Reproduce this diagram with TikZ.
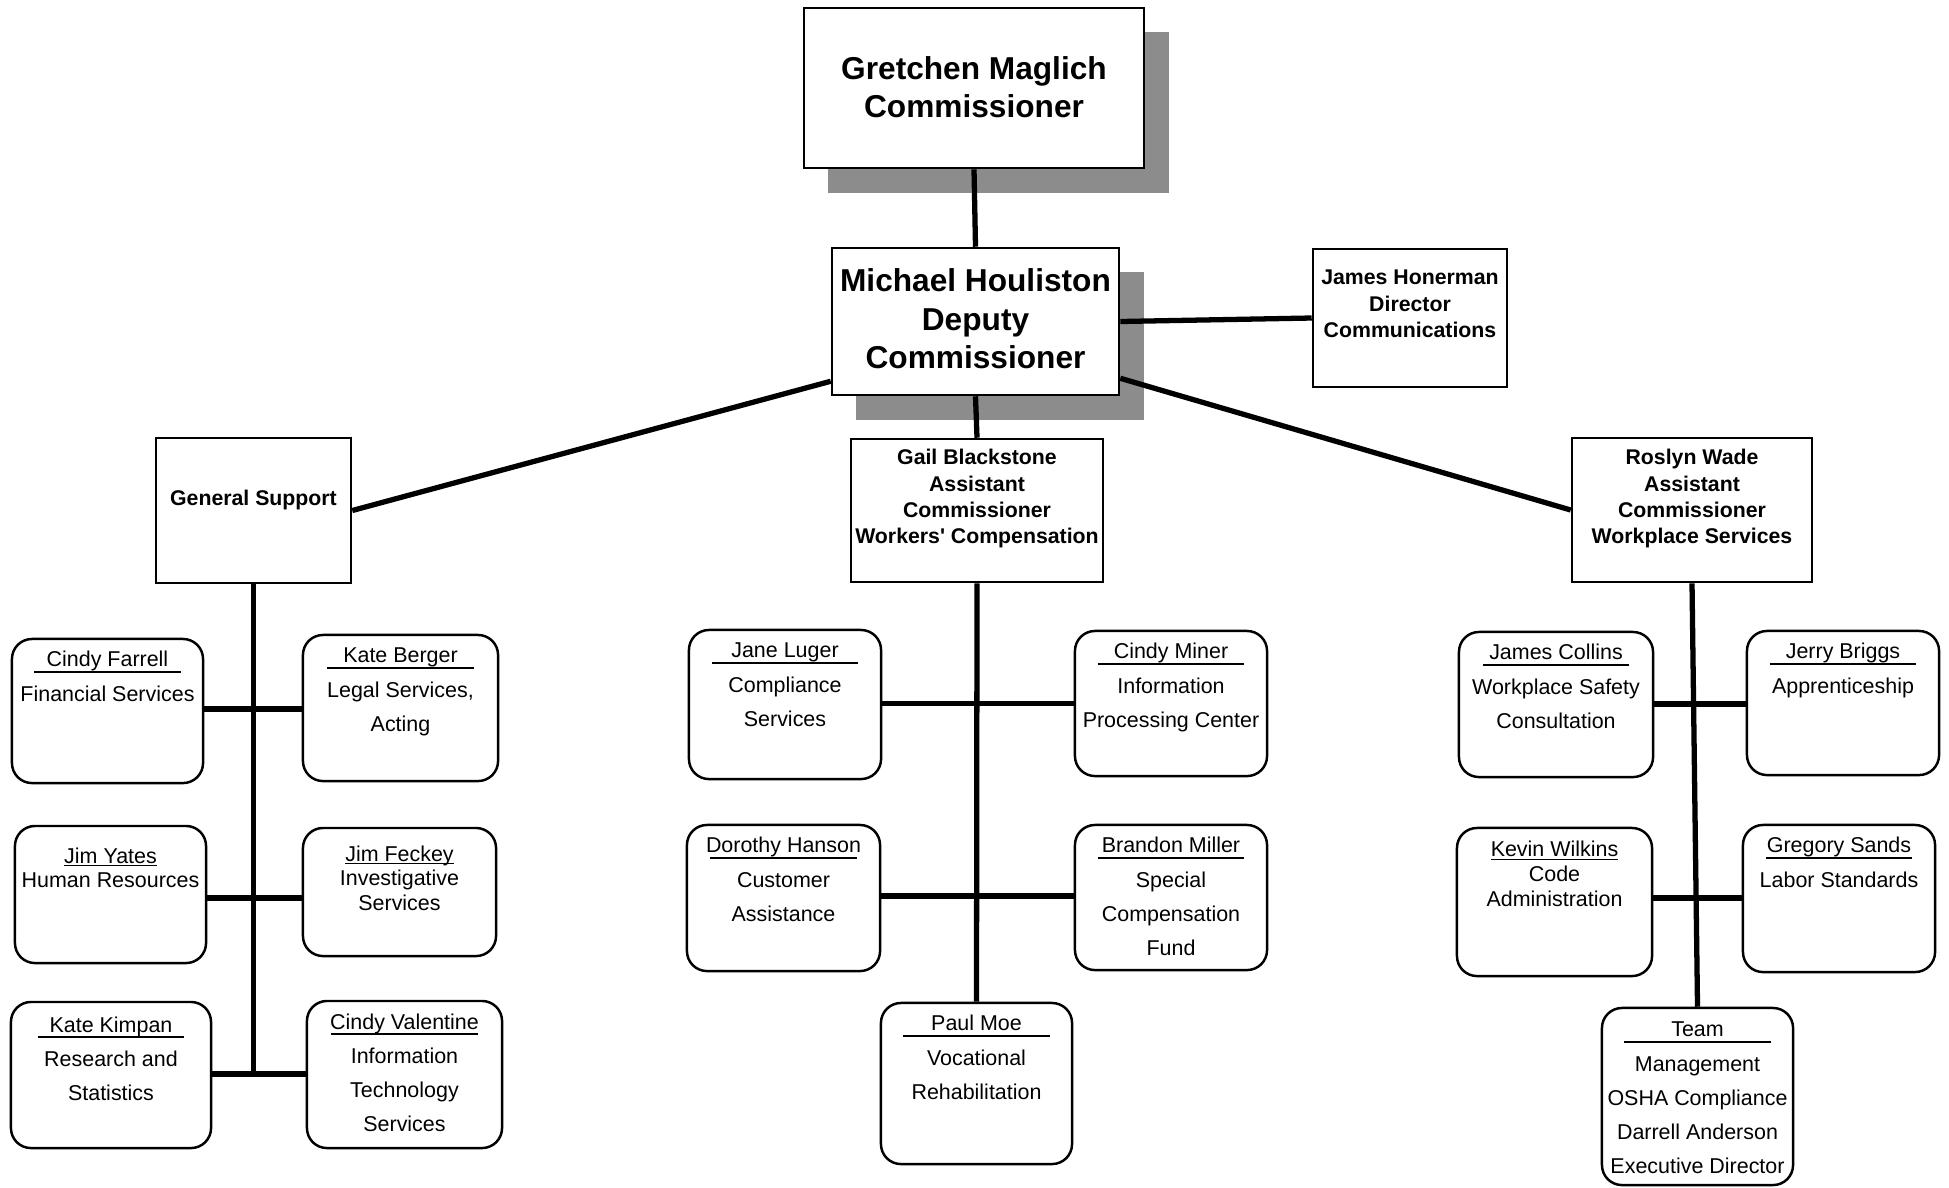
\documentclass[tikz,border=0pt]{standalone}
\usepackage{fontspec}
\setmainfont{Liberation Sans}
\usepackage{tikz}
\usetikzlibrary{shadows}

\newcommand{\chieffont}{\fontsize{9pt}{10.9pt}\selectfont\bfseries}
\newcommand{\unitfont}{\fontsize{6.05pt}{7.4pt}\selectfont\bfseries}
\newcommand{\cellfont}{\fontsize{6.1pt}{9.7pt}\selectfont}
\newcommand{\tightfont}{\fontsize{6.1pt}{7.1pt}\selectfont}
% width, height, first baseline, lines
\newcommand{\orgcell}[4]{\parbox[c][#2][t]{#1}{\centering\rule{0pt}{#3}#4}}
\newcommand{\rname}[1]{\makebox[0pt]{\rule[-1.7pt]{1.46cm}{0.55pt}}\makebox[0pt]{#1}}
\newcommand{\uname}[1]{\setbox0=\hbox{#1}\rlap{\rule[-0.9pt]{\wd0}{0.45pt}}\box0}

\begin{document}
\begin{tikzpicture}[x=0.01cm, y=-0.01cm,
    box/.style={draw, line width=0.7pt, fill=white, inner sep=0pt},
    rbox/.style={box, rounded corners=0.2cm},
    shadowed/.style={drop shadow={shadow xshift=0.245cm, shadow yshift=-0.245cm, fill=black!45, opacity=1}},
    link/.style={line width=1.5pt}
]
    \useasboundingbox (0,0) rectangle (1949,1187);

    % Commissioner
    \node[box, shadowed, font=\chieffont] (gretchen) at (974,88) {\orgcell{3.4cm}{1.6cm}{0.71cm}{Gretchen Maglich\\Commissioner}};

    % Deputy
    \node[box, shadowed, font=\chieffont] (michael) at (975.5,321.5) {\orgcell{2.87cm}{1.47cm}{0.44cm}{Michael Houliston\\Deputy\\Commissioner}};

    % Communications
    \node[box, font=\unitfont] (honerman) at (1410,318) {\orgcell{1.94cm}{1.38cm}{0.36cm}{James Honerman\\Director\\Communications}};

    % Divisions
    \node[box, font=\unitfont] (support) at (253.5,510.5) {\orgcell{1.95cm}{1.45cm}{0.67cm}{General Support}};
    \node[box, font=\unitfont] (gail) at (977,510.5) {\orgcell{2.52cm}{1.43cm}{0.26cm}{Gail Blackstone\\Assistant\\Commissioner\\Workers\textquotesingle{} Compensation}};
    \node[box, font=\unitfont] (roslyn) at (1692,510) {\orgcell{2.4cm}{1.44cm}{0.27cm}{Roslyn Wade\\Assistant\\Commissioner\\Workplace Services}};

    % General Support units
    \node[rbox, font=\cellfont] (farrell) at (107.5,711) {\orgcell{1.91cm}{1.44cm}{0.28cm}{\rname{Cindy Farrell}\\Financial Services}};
    \node[rbox, font=\cellfont] (berger) at (400.5,708) {\orgcell{1.95cm}{1.46cm}{0.28cm}{\rname{Kate Berger}\\Legal Services,\\Acting}};
    \node[rbox, font=\tightfont] (yates) at (110.5,894.5) {\orgcell{1.91cm}{1.37cm}{0.37cm}{\uname{Jim Yates}\\Human Resources}};
    \node[rbox, font=\tightfont] (feckey) at (399.5,892) {\orgcell{1.93cm}{1.28cm}{0.33cm}{\uname{Jim Feckey}\\Investigative\\Services}};
    \node[rbox, font=\cellfont] (kimpan) at (111,1075) {\orgcell{2cm}{1.46cm}{0.3cm}{\rname{Kate Kimpan}\\Research and\\Statistics}};
    \node[rbox, font=\cellfont] (valentine) at (404.5,1074.5) {\orgcell{1.95cm}{1.47cm}{0.28cm}{\rname{Cindy Valentine}\\Information\\Technology\\Services}};

    % Workers' Compensation units
    \node[rbox, font=\cellfont] (luger) at (785,704.5) {\orgcell{1.92cm}{1.49cm}{0.28cm}{\rname{Jane Luger}\\Compliance\\Services}};
    \node[rbox, font=\cellfont] (miner) at (1171,703.5) {\orgcell{1.92cm}{1.45cm}{0.28cm}{\rname{Cindy Miner}\\Information\\Processing Center}};
    \node[rbox, font=\cellfont] (hanson) at (783.5,898) {\orgcell{1.93cm}{1.46cm}{0.28cm}{\rname{Dorothy Hanson}\\Customer\\Assistance}};
    \node[rbox, font=\cellfont] (miller) at (1171,897.5) {\orgcell{1.92cm}{1.45cm}{0.28cm}{\rname{Brandon Miller}\\Special\\Compensation\\Fund}};
    \node[rbox, font=\cellfont] (moe) at (976.5,1083.5) {\orgcell{1.91cm}{1.61cm}{0.28cm}{\rname{Paul Moe}\\Vocational\\Rehabilitation}};

    % Workplace Services units
    \node[rbox, font=\cellfont] (collins) at (1556,704.5) {\orgcell{1.94cm}{1.45cm}{0.28cm}{\rname{James Collins}\\Workplace Safety\\Consultation}};
    \node[rbox, font=\cellfont] (briggs) at (1843,703) {\orgcell{1.92cm}{1.44cm}{0.28cm}{\rname{Jerry Briggs}\\Apprenticeship}};
    \node[rbox, font=\tightfont] (wilkins) at (1554.5,902) {\orgcell{1.95cm}{1.48cm}{0.29cm}{\uname{Kevin Wilkins}\\Code\\Administration}};
    \node[rbox, font=\cellfont] (sands) at (1839,898.5) {\orgcell{1.92cm}{1.47cm}{0.28cm}{\rname{Gregory Sands}\\Labor Standards}};
    \node[rbox, font=\cellfont] (team) at (1697.5,1096.5) {\orgcell{1.91cm}{1.77cm}{0.29cm}{\rname{Team}\\Management\\OSHA Compliance\\Darrell Anderson\\Executive Director}};

    % Rows
    \coordinate (lrow1) at (0,709);
    \coordinate (lrow2) at (0,898);
    \coordinate (lrow3) at (0,1074);
    \coordinate (mrow1) at (0,703.5);
    \coordinate (mrow2) at (0,896);
    \coordinate (rrow1) at (0,704);
    \coordinate (rrow2) at (0,898);

    % Top links
    \draw[link] (gretchen.south) -- (michael.north);
    \draw[link] (michael.east) -- (honerman.west);
    \draw[link] ([yshift=0.15cm]michael.south west) -- (support.east);
    \draw[link] (michael.south) -- (gail.north);
    \draw[link] ([yshift=0.18cm]michael.south east) -- (roslyn.west);

    % General Support
    \draw[link] (support.south) -- (support.south |- lrow3);
    \draw[link] (farrell.east |- lrow1) -- (berger.west |- lrow1);
    \draw[link] (yates.east |- lrow2) -- (feckey.west |- lrow2);
    \draw[link] (kimpan.east |- lrow3) -- (valentine.west |- lrow3);

    % Workers' Compensation
    \draw[link] (gail.south) -- (moe.north);
    \draw[link] (luger.east |- mrow1) -- (miner.west |- mrow1);
    \draw[link] (hanson.east |- mrow2) -- (miller.west |- mrow2);

    % Workplace Services
    \draw[link] (roslyn.south) -- (team.north);
    \draw[link] (collins.east |- rrow1) -- (briggs.west |- rrow1);
    \draw[link] (wilkins.east |- rrow2) -- (sands.west |- rrow2);
\end{tikzpicture}
\end{document}
